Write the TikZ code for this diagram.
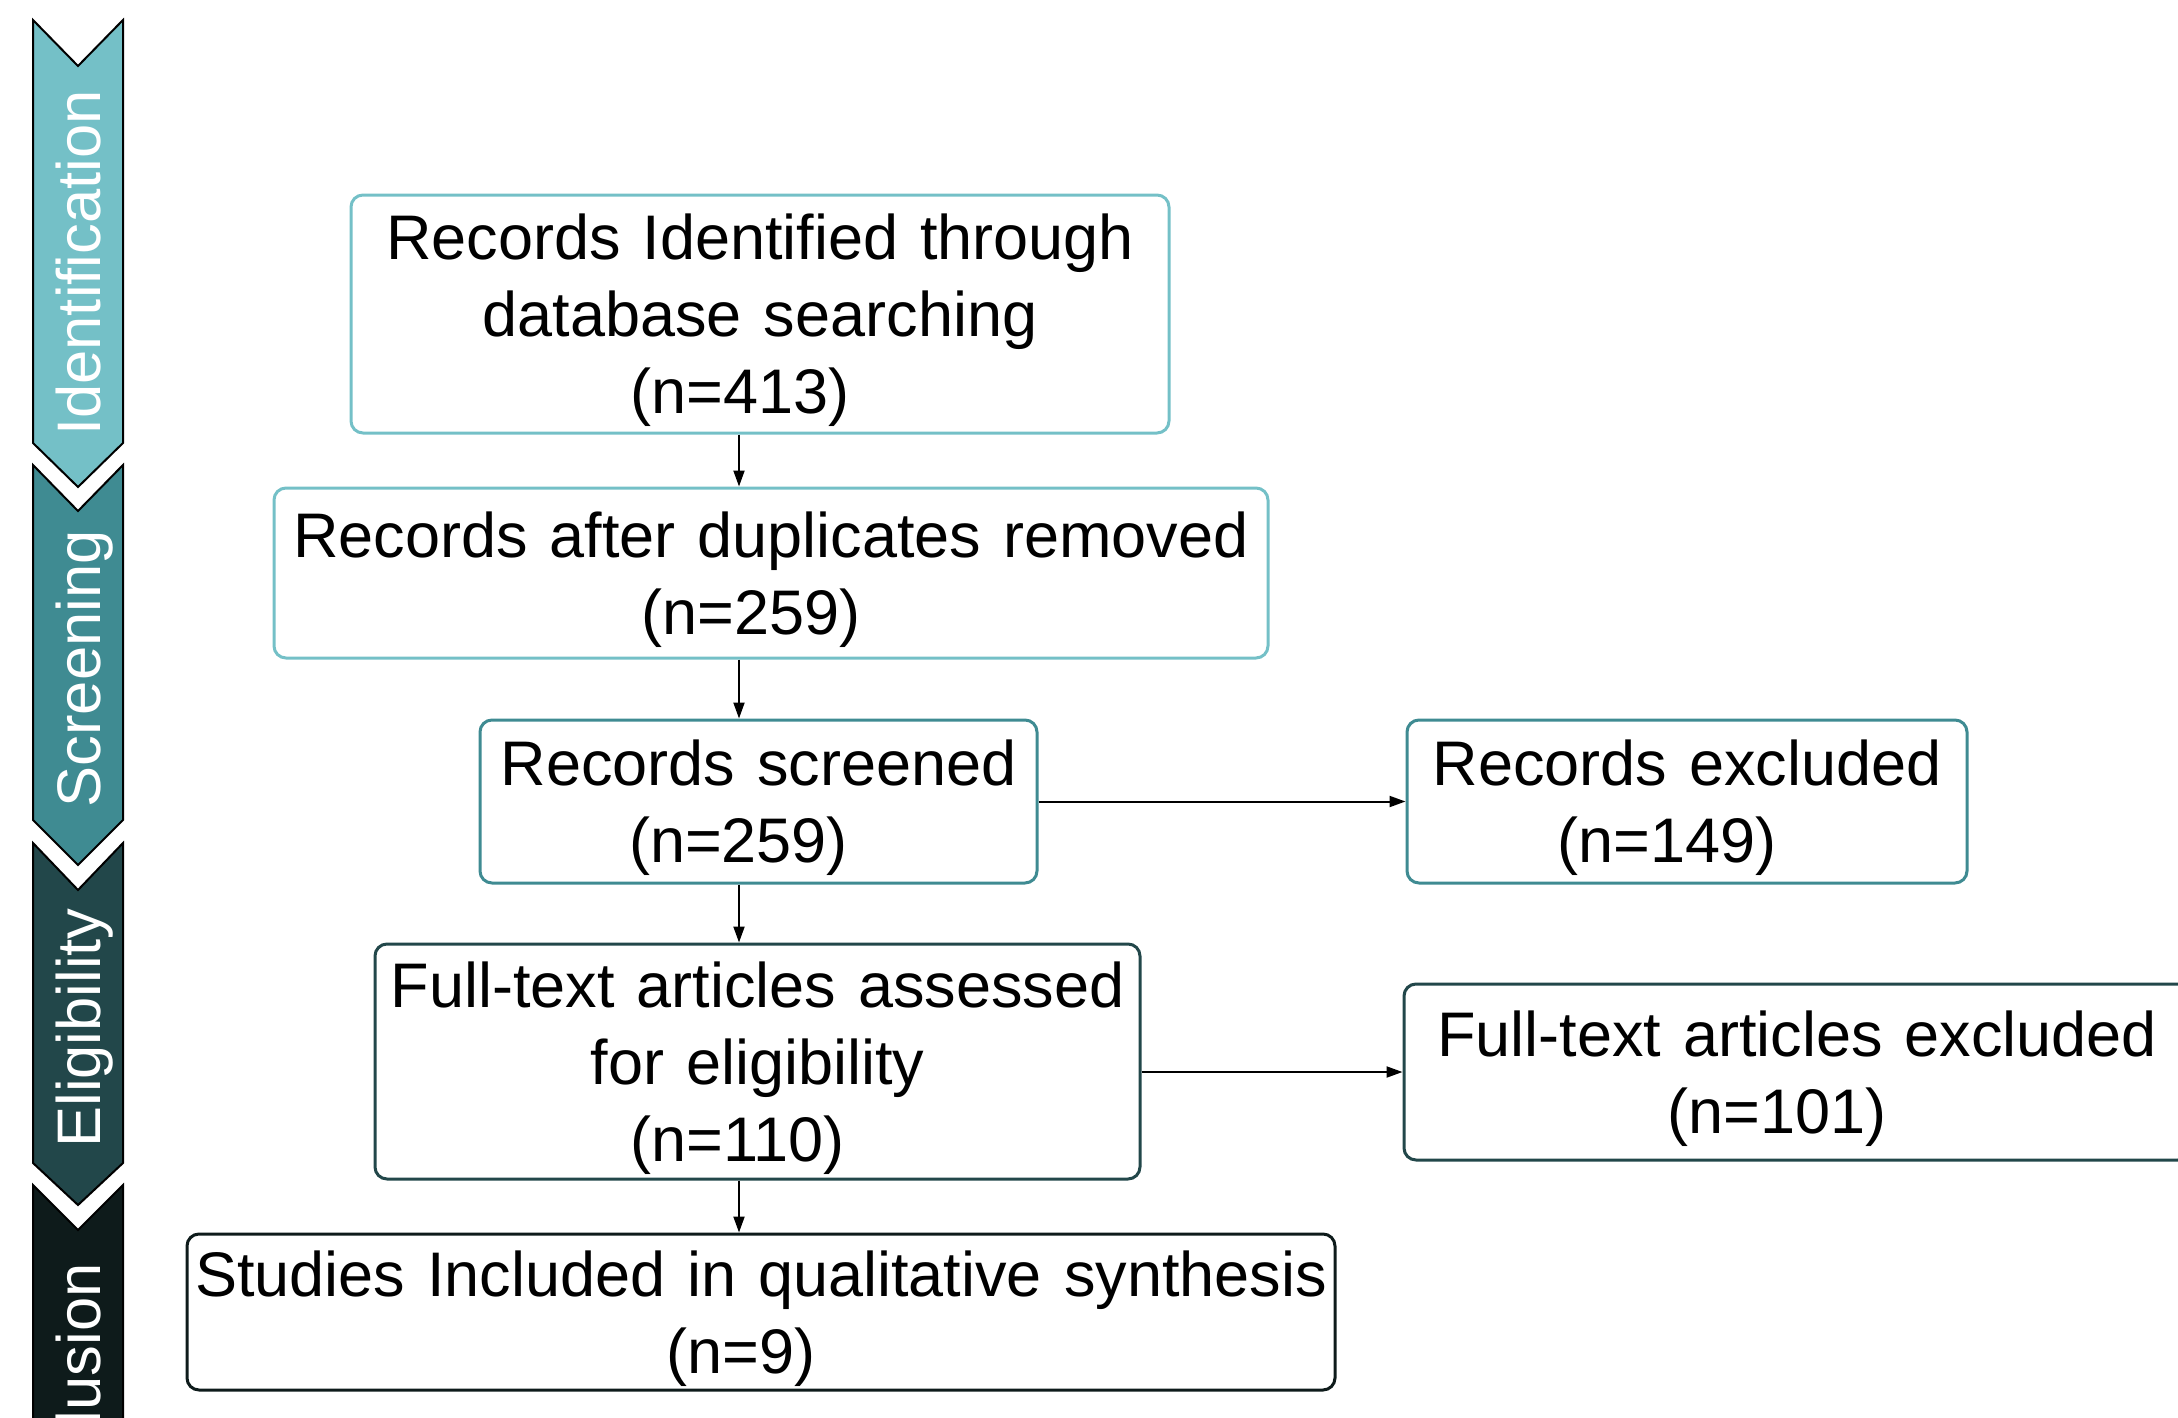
\documentclass[tikz,border=0pt]{standalone}
\usepackage{fontspec}
\setmainfont{Liberation Sans}
\usetikzlibrary{arrows.meta}

\definecolor{idcol}{HTML}{74C0C7}
\definecolor{sccol}{HTML}{3F8B92}
\definecolor{elcol}{HTML}{22474A}
\definecolor{incol}{HTML}{0E1B1B}

\newcommand{\numline}[1]{#1\hspace*{20pt}}
\newcommand{\boxfont}{\fontsize{31.5}{38.5}\selectfont
  \spaceskip=11pt plus 3pt minus 1pt\relax}

\begin{document}
\begin{tikzpicture}[x=0.5pt,y=-0.5pt,
  stage/.style={draw=black, line width=1pt, line join=miter},
  stagelabel/.style={rotate=90, anchor=base east, inner sep=0pt, text=white,
    font=\fontsize{30.75}{36}\selectfont},
  flowbox/.style={draw, rounded corners=6pt, line width=1.5pt, align=center,
    inner sep=0pt, text depth=0pt, font=\boxfont},
  link/.style={-{Triangle[length=8pt,width=5.5pt]}, line width=1pt}]

\path[use as bounding box] (0,0) rectangle (2178,1418);
\clip (0,0) rectangle (2178,1418);

% stage chevrons down the left margin
\path[stage, fill=idcol] (33,20) -- (78,66) -- (123,20) -- (123,443) -- (78,487) -- (33,443) -- cycle;
\path[stage, fill=sccol] (33,465) -- (78,511) -- (123,465) -- (123,820) -- (78,865) -- (33,820) -- cycle;
\path[stage, fill=elcol] (33,843) -- (78,890) -- (123,843) -- (123,1163) -- (78,1205) -- (33,1163) -- cycle;
\path[stage, fill=incol] (33,1185) -- (78,1230) -- (123,1185) -- (123,1450) -- (33,1450) -- cycle;

\node[stagelabel] (lblid) at (100,90) {Identification};
\node[stagelabel] (lblsc) at (100,530) {Screening};
\node[stagelabel] (lblel) at (100,908) {Eligibility};
\node[stagelabel] (lblin) at (100,1263) {Inclusion};

% flow boxes
\node[flowbox, draw=idcol, minimum width=409pt, minimum height=119pt] (ident) at (760,314)
  {Records Identified through\\database searching\\\numline{(n=413)}};
\node[flowbox, draw=idcol, minimum width=497pt, minimum height=85pt] (dup) at (771,573)
  {Records after duplicates removed\\\numline{(n=259)}};
\node[flowbox, draw=sccol, minimum width=278.5pt, minimum height=81.5pt] (scr) at (758.5,801.5)
  {Records screened\\\numline{(n=259)}};
\node[flowbox, draw=sccol, minimum width=280pt, minimum height=81.5pt] (excl) at (1687,801.5)
  {Records excluded\\\numline{(n=149)}};
\node[flowbox, draw=elcol, minimum width=382.5pt, minimum height=117.5pt] (ft) at (757.5,1061.5)
  {Full-text articles assessed\\for eligibility\\\numline{(n=110)}};
\node[flowbox, draw=elcol, minimum width=393pt, minimum height=88pt] (ftx) at (1797,1072)
  {Full-text articles excluded\\\numline{(n=101)}};
\node[flowbox, draw=incol, minimum width=574pt, minimum height=78pt] (incl) at (761,1312)
  {Studies Included in qualitative synthesis\\\numline{(n=9)}};

% connectors
\coordinate (spine) at (739,0);
\draw[link] (ident.south -| spine) -- (dup.north -| spine);
\draw[link] (dup.south -| spine) -- (scr.north -| spine);
\draw[link] (scr.south -| spine) -- (ft.north -| spine);
\draw[link] (ft.south -| spine) -- (incl.north -| spine);
\draw[link] (scr.east) -- (excl.west);
\draw[link] (ft.east |- ftx.west) -- (ftx.west);
\end{tikzpicture}
\end{document}
